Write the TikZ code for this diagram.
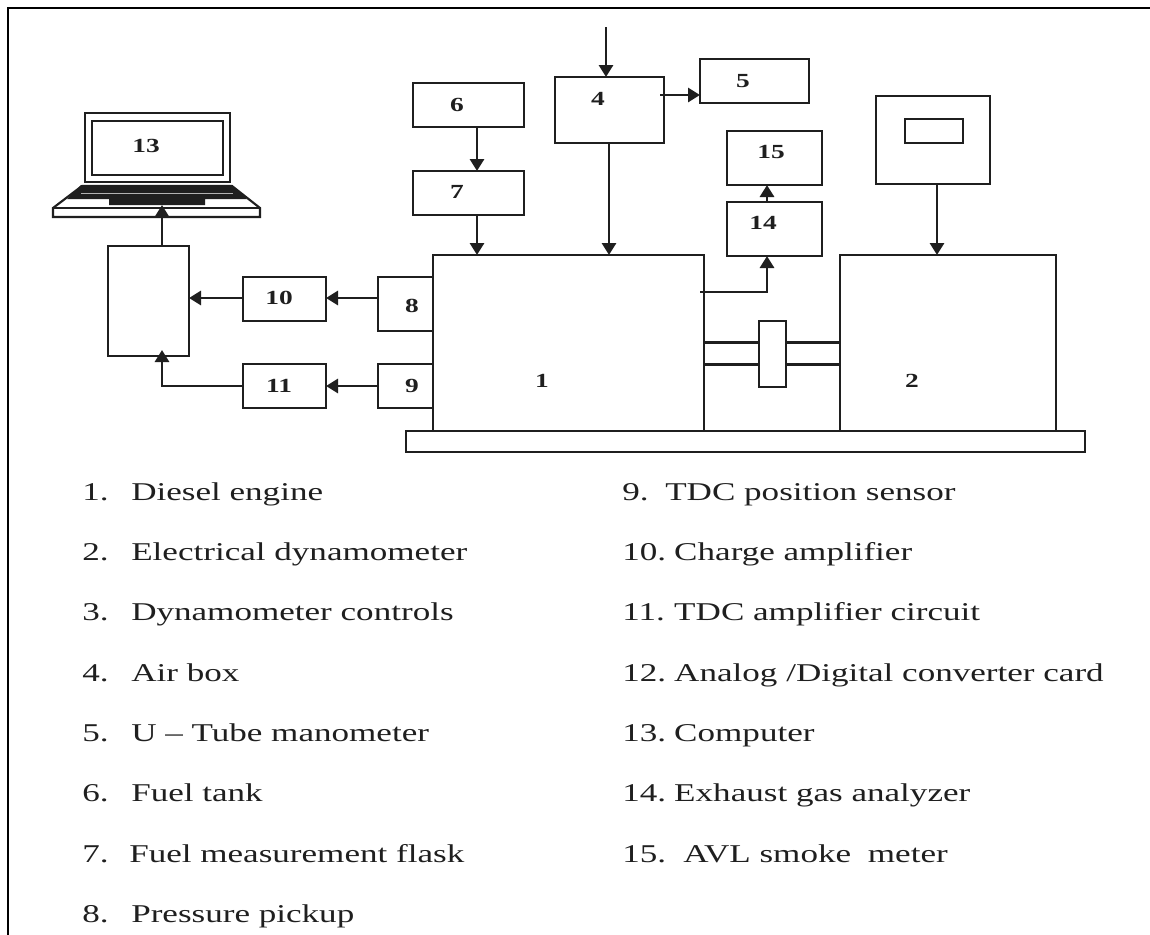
\documentclass[tikz,border=0pt]{standalone}
\usepackage{fontspec}
\setmainfont[FakeStretch=1.37]{Liberation Serif}
\usetikzlibrary{arrows.meta}
\definecolor{ink}{gray}{0.12}
\tikzset{
 x=0.75pt,y=-0.75pt,
 ln/.style={draw=ink,line width=1.7pt},
 boxn/.style={draw=ink,line width=2.2pt,fill=white,inner sep=0pt,outer sep=0pt},
 arr/.style={draw=ink,line width=2.2pt,-{Triangle[width=10.5pt,length=9pt]}},
 lab/.style={anchor=base west,inner sep=0pt,font=\fontsize{19.2}{21}\selectfont,text=ink},
 num/.style={inner sep=0pt,font=\fontsize{15}{16}\selectfont\bfseries,text=ink},
}
\newcommand{\bx}[5]{%
 \pgfmathsetmacro{\bxw}{(#4-#2)*0.75}\pgfmathsetmacro{\bxh}{(#5-#3)*0.75}%
 \pgfmathsetmacro{\bxcx}{(#2+#4)/2}\pgfmathsetmacro{\bxcy}{(#3+#5)/2}%
 \node[boxn,minimum width=\bxw pt,minimum height=\bxh pt] (#1) at (\bxcx,\bxcy) {};}
\newcommand{\nm}[2]{\makebox[#1pt][l]{#2}}
\begin{document}
\begin{tikzpicture}
\useasboundingbox (0,0) rectangle (1150,935);
\fill[white] (0,0) rectangle (1150,935);
\draw[black,line width=1.6pt] (8,935) -- (8,8) -- (1150,8);
% shafts drawn under the coupling
\coordinate (s1a) at (704,342.5); \coordinate (s1b) at (704,364.5);
\coordinate (s2a) at (840,342.5); \coordinate (s2b) at (840,364.5);
\draw[ln] (s1a)--(s2a) (s1b)--(s2b);
\bx{coup}{759}{321}{786}{387}
\bx{base}{406}{431}{1085}{452}
\bx{e1}{433}{255}{704}{431}
\bx{e2}{840}{255}{1056}{431}
\node[num] (n1) at (542,381) {1};
\node[num] (n2) at (912,381) {2};
\bx{b4}{555}{77}{664}{143}
\node[num] (n4) at (598,99) {4};
\bx{b5}{700}{59}{809}{103}
\node[num] (n5) at (743,81) {5};
\bx{b6}{413}{83}{524}{127}
\node[num] (n6) at (457,105) {6};
\bx{b7}{413}{171}{524}{215}
\node[num] (n7) at (457,192) {7};
\bx{b15}{727}{131}{822}{185}
\node[num] (n15) at (771,152) {15};
\bx{b14}{727}{202}{822}{256}
\node[num] (n14) at (763,223) {14};
\bx{b3}{876}{96}{990}{184}
\bx{b3w}{905}{119}{963}{143}
\bx{b8}{378}{277}{433}{331}
\node[num] (n8) at (412,306) {8};
\bx{b9}{378}{364}{433}{408}
\node[num] (n9) at (412,386) {9};
\bx{b10}{243}{277}{326}{321}
\node[num] (n10) at (279,298) {10};
\bx{b11}{243}{364}{326}{408}
\node[num] (n11) at (279,386) {11};
\bx{b12}{108}{246}{189}{356}
% laptop
\draw[draw=ink,line width=1.8pt,fill=white] (85,113) rectangle (230,182);
\bx{scr}{92}{121}{223}{175}
\node[num] (n13) at (146,146) {13};
\draw[ink,line width=1.6pt,fill=white] (53,208)--(82,186)--(232,186)--(260,208)--(260,217)--(53,217)--cycle;
\draw[ink,line width=1.2pt] (53,208)--(260,208);
\fill[ink] (81,185)--(232,185)--(247,199)--(205,199)--(205,205)--(109,205)--(109,199)--(67,199)--cycle;
\draw[black!30,line width=0.7pt] (81,193)--(233,193);
% connector guides
\coordinate (top) at (606,27);
\coordinate (lapin) at (162,205);
\coordinate (a45) at (660,95);
\coordinate (a67) at (477,150);
\coordinate (a41) at (609,150);
\coordinate (a145) at (767,190);
\coordinate (eo) at (700,292);
\coordinate (a3) at (937,200);
\coordinate (y1) at (300,298);
\coordinate (y2) at (300,386);
\coordinate (u) at (162,350);
% arrows
\draw[arr] (top) -- (top|-b4.north);
\draw[arr] (a45) -- (b5.west|-a45);
\draw[arr] (a67|-b6.south) -- (a67|-b7.north);
\draw[arr] (a67|-b7.south) -- (a67|-e1.north);
\draw[arr] (a41|-b4.south) -- (a41|-e1.north);
\draw[arr] (a145|-b14.north) -- (a145|-b15.south);
\draw[arr] (eo) -| (a145|-b14.south);
\draw[arr] (a3|-b3.south) -- (a3|-e2.north);
\draw[arr] (b8.west|-y1) -- (b10.east|-y1);
\draw[arr] (b9.west|-y2) -- (b11.east|-y2);
\draw[arr] (b10.west|-y1) -- (b12.east|-y1);
\draw[arr] (b11.west|-y2) -| (u);
\draw[arr] (lapin|-b12.north) -- (lapin);
% legend
\node[lab] (l1) at (82,500) {\nm{36.75}{1.}Diesel engine};
\node[lab] (l2) at (82,560) {\nm{36.75}{2.}Electrical dynamometer};
\node[lab] (l3) at (82,620) {\nm{36.75}{3.}Dynamometer controls};
\node[lab] (l4) at (82,681) {\nm{36.75}{4.}Air box};
\node[lab] (l5) at (82,741) {\nm{36.75}{5.}U -- Tube manometer};
\node[lab] (l6) at (82,801) {\nm{36.75}{6.}Fuel tank};
\node[lab] (l7) at (82,862) {\nm{35.25}{7.}Fuel measurement flask};
\node[lab] (l8) at (82,922) {\nm{36.75}{8.}Pressure pickup};
\node[lab] (l9) at (622,500) {\nm{32.25}{9.}TDC position sensor};
\node[lab] (l10) at (622,560) {\nm{39}{10.}Charge amplifier};
\node[lab] (l11) at (622,620) {\nm{39}{11.}TDC amplifier circuit};
\node[lab] (l12) at (622,681) {\nm{39}{12.}Analog /Digital converter card};
\node[lab] (l13) at (622,741) {\nm{39}{13.}Computer};
\node[lab] (l14) at (622,801) {\nm{39}{14.}Exhaust gas analyzer};
\node[lab] (l15) at (622,862) {\nm{45.75}{15.}AVL smoke\hspace{6pt} meter};
\end{tikzpicture}
\end{document}
